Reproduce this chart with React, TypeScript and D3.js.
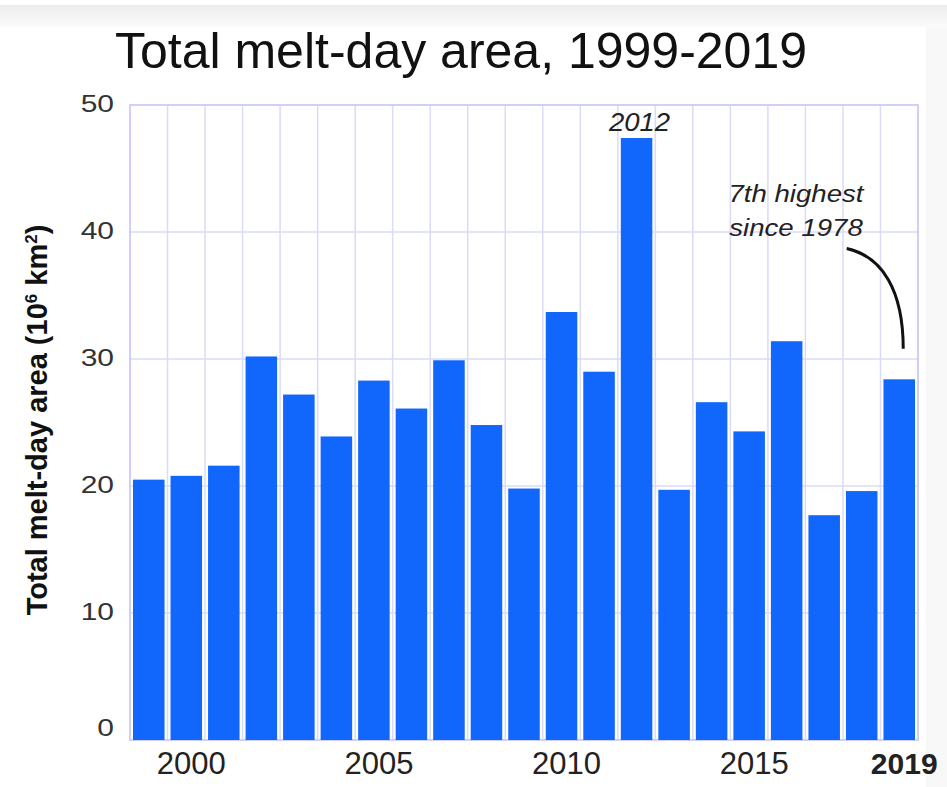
import React from "react";
import * as d3 from "d3";

const years: number[] = [1999, 2000, 2001, 2002, 2003, 2004, 2005, 2006, 2007, 2008, 2009, 2010, 2011, 2012, 2013, 2014, 2015, 2016, 2017, 2018, 2019];
const meltArea: number[] = [20.5, 20.8, 21.6, 30.2, 27.2, 23.9, 28.3, 26.1, 29.9, 24.8, 19.8, 33.7, 29.0, 47.4, 19.7, 26.6, 24.3, 31.4, 17.7, 19.6, 28.4];
const yTicks: number[] = [0, 10, 20, 30, 40, 50];
const xTickYears: number[] = [2000, 2005, 2010, 2015, 2019];

const W = 947;
const H = 787;
const left = 130;
const right = 918;
const top = 105;
const bottom = 740;

const font = "'Liberation Sans', Arial, Helvetica, sans-serif";

function SText(props: {
  x: number;
  y: number;
  sx?: number;
  size: number;
  anchor?: string;
  weight?: string;
  italic?: boolean;
  fill?: string;
  children: React.ReactNode;
}) {
  const { x, y, sx = 1, size, anchor = "middle", weight = "normal", italic = false, fill = "#222", children } = props;
  return (
    <text
      transform={`translate(${x},${y}) scale(${sx},1)`}
      fontFamily={font}
      fontSize={size}
      fontWeight={weight}
      fontStyle={italic ? "italic" : "normal"}
      fill={fill}
      textAnchor={anchor}
    >
      {children}
    </text>
  );
}

export default function App() {
  const x = d3
    .scaleBand<number>()
    .domain(years)
    .range([left, right])
    .paddingInner(0.16)
    .paddingOuter(0.08);
  const y = d3.scaleLinear().domain([0, 50]).range([bottom, top]);
  const step = x.step();
  const boundaries = years.map((_, i) => left + i * step).slice(1);
  const grid = "#dadafb";
  const cx = (yr: number) => (x(yr) as number) + x.bandwidth() / 2;

  // annotation arc for 2019
  const arcStart: [number, number] = [cx(2017) + step * 0.6, y(38.7)];
  const arcEnd: [number, number] = [cx(2019) + 4, y(30.8)];
  const arcPath = `M${arcStart[0]},${arcStart[1]} C${arcStart[0] + 36},${arcStart[1] + 8} ${arcEnd[0]},${arcEnd[1] - 58} ${arcEnd[0]},${arcEnd[1]}`;

  return (
    <svg width={W} height={H} style={{ position: "absolute", left: 0, top: 0, background: "#fff" }}>
      <defs>
        <linearGradient id="topband" x1="0" y1="0" x2="0" y2="1">
          <stop offset="0" stopColor="#ececec" />
          <stop offset="1" stopColor="#fbfbfb" />
        </linearGradient>
      </defs>
      <rect x={0} y={5} width={W} height={22} fill="url(#topband)" />
      <rect x={926} y={27} width={W - 926} height={H - 27} fill="#f8f8f8" />

      <text x={461} y={68} fontFamily={font} fontSize={50} fill="#111" textAnchor="middle">
        Total melt-day area, 1999-2019
      </text>

      {/* gridlines */}
      {boundaries.map((bx, i) => (
        <line key={"v" + i} x1={bx} x2={bx} y1={top} y2={bottom} stroke={grid} strokeWidth={1.5} />
      ))}
      {yTicks.filter((t) => t > 0 && t < 50).map((t) => (
        <line key={"h" + t} x1={left} x2={right} y1={y(t)} y2={y(t)} stroke={grid} strokeWidth={1.5} />
      ))}
      <rect x={left} y={top} width={right - left} height={bottom - top} fill="none" stroke="#cfcff8" strokeWidth={2} />

      {/* bars */}
      {years.map((yr, i) => (
        <rect
          key={yr}
          x={x(yr)}
          y={y(meltArea[i])}
          width={x.bandwidth()}
          height={bottom - y(meltArea[i])}
          fill="#1166fb"
        />
      ))}

      {/* y ticks */}
      {yTicks.map((t) => (
        <SText key={"yt" + t} x={114} y={t === 0 ? y(t) - 4 : y(t) + 7} size={24} sx={1.25} anchor="end" fill="#333">
          {t}
        </SText>
      ))}
      {/* x ticks */}
      {xTickYears.map((yr) => (
        <SText
          key={"xt" + yr}
          x={cx(yr) + 5}
          y={774}
          size={yr === 2019 ? 30 : 31}
          weight={yr === 2019 ? "bold" : "normal"}
          fill="#222"
        >
          {yr}
        </SText>
      ))}

      {/* y axis label */}
      <text
        transform={`translate(47,${420}) rotate(-90)`}
        fontFamily={font}
        fontSize={29}
        fontWeight="bold"
        fill="#111"
        textAnchor="middle"
      >
        Total melt-day area (10
        <tspan dy={-10} fontSize={17}>6</tspan>
        <tspan dy={10}> km</tspan>
        <tspan dy={-10} fontSize={17}>2</tspan>
        <tspan dy={10}>)</tspan>
      </text>

      {/* annotations */}
      <SText x={cx(2012) + 3} y={131} size={25} sx={1.1} italic>
        2012
      </SText>
      <SText x={796} y={202} size={24} sx={1.15} italic>
        7th highest
      </SText>
      <SText x={796} y={236} size={24} sx={1.15} italic>
        since 1978
      </SText>
      <path d={arcPath} fill="none" stroke="#111" strokeWidth={3} />
    </svg>
  );
}
